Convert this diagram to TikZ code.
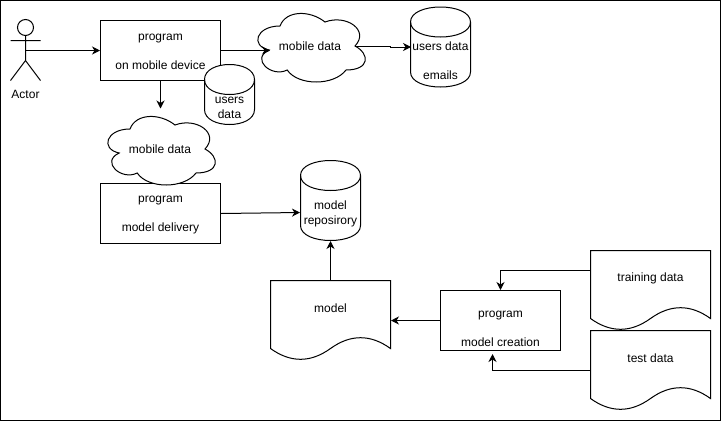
\documentclass[tikz,border=0pt]{standalone}
\usepackage{fontspec}
\setmainfont{Liberation Sans}
\usetikzlibrary{arrows.meta}
\tikzset{
  x=1pt,y=-1pt,
  shapeline/.style={draw=black,line width=1pt,fill=white},
  boxshape/.style={shapeline,minimum width=120pt,minimum height=60pt,inner sep=0pt},
  label text/.style={align=center,inner sep=0pt,font=\fontsize{12}{14.5}\selectfont,text=black},
  conn/.style={draw=black,line width=1pt,-{Stealth[length=8pt,width=8pt,inset=2.5pt]}},
}
\newcommand{\cloudshape}[2]{%
  \begin{scope}[shift={(#1,#2)}]
  \draw[shapeline] (30,20) .. controls (6,20) and (0,40) .. (19.2,44)
    .. controls (0,52.8) and (21.6,72) .. (37.2,64)
    .. controls (48,80) and (84,80) .. (96,64)
    .. controls (120,64) and (120,48) .. (105,40)
    .. controls (120,24) and (96,8) .. (75,16)
    .. controls (60,4) and (36,4) .. (30,20) -- cycle;
  \end{scope}}
\newcommand{\cylshape}[4]{% x y w h
  \begin{scope}[shift={(#1,#2)}]
  \draw[shapeline] (0,15) .. controls (0,-5) and (#3,-5) .. (#3,15) -- (#3,#4-15)
     .. controls (#3,#4+5) and (0,#4+5) .. (0,#4-15) -- cycle;
  \draw[shapeline,fill=none] (0,15) .. controls (0,35) and (#3,35) .. (#3,15);
  \end{scope}}
\newcommand{\docshape}[2]{%
  \begin{scope}[shift={(#1,#2)}]
  \draw[shapeline] (0,0) -- (120,0) -- (120,68)
    .. controls (100,53.6) and (80,53.6) .. (60,68)
    .. controls (40,82.4) and (20,82.4) .. (0,68) -- cycle;
  \end{scope}}
\begin{document}
\begin{tikzpicture}
\useasboundingbox (0,0) rectangle (721,421);
\draw[line width=1pt,draw=black] (0.5,0.5) rectangle (720.5,420.5);
% actor
\draw[line width=1pt] (25.5,27.5) circle[radius=8];
\draw[line width=1pt] (25.5,35.5) -- (25.5,60) (10.5,40.5) -- (40.5,40.5) (10.5,80.5) -- (25.5,60.5) -- (40.5,80.5);
\node[label text] (actorlabel) at (25.5,94) {Actor};
\coordinate (actor) at (25.5,50.5);
\coordinate (cloudAin) at (270,50.5);
\coordinate (cloudAout) at (355,46);
\coordinate (cloudBin) at (160.5,108.5);
\coordinate (emailsin) at (411,47);
\coordinate (repoin) at (300,212.5);
\coordinate (repoout) at (330.5,241);
\coordinate (modelin) at (391,320.5);
\coordinate (modeltop) at (330.5,280.5);
\coordinate (trainout) at (590.5,270.5);
\coordinate (testout) at (590.5,370.5);
\coordinate (creationin) at (492.5,354);
% top program
\node[boxshape] (prog) at (160.5,50.5) {};
\node[label text] (progtext) at (160.5,52) {program\\[14.5pt]on mobile device};
\cloudshape{250}{6}
\node[label text] (cloudA) at (310,46.5) {mobile data};
\cylshape{204.5}{64.5}{50}{60}
\node[label text] (users) at (229.5,108) {users\\data};
\cylshape{410.5}{7}{60}{80}
\node[label text] (emails) at (440.5,60.5) {users data\\[14.5pt]emails};
\node[boxshape] (delivery) at (160.5,213.5) {};
\node[label text] (deliverytext) at (160.5,215.5) {program\\[14.5pt]model delivery};
\cloudshape{100}{109}
\node[label text] (cloudB) at (160,149) {mobile data};
\cylshape{300.5}{160.5}{60}{80}
\node[label text] (repo) at (330.5,214) {model\\reposirory};
\docshape{270.5}{280.5}
\node[label text] (model) at (330.5,308) {model};
\node[boxshape] (creation) at (500.5,320.5) {};
\node[label text] (creationtext) at (500.5,329) {program\\[14.5pt]model creation};
\docshape{590.5}{250.5}
\node[label text] (training) at (650.5,278.5) {training data};
\docshape{590.5}{330.5}
\node[label text] (test) at (650.5,358) {test data};
% connectors
\draw[conn] (actor) -- (prog.west);
\draw[conn] (prog.east) -- (cloudAin);
\draw[conn] (prog.south) -- (cloudBin);
\draw[conn] (cloudAout) -- (390,46) -- (390,47) -- (emailsin);
\draw[conn] (delivery.east) -- (repoin);
\draw[conn] (modeltop) -- (repoout);
\draw[conn] (creation.west) -- (modelin);
\draw[conn] (trainout) -| (creation.north);
\draw[conn] (testout) -| (creationin);
\end{tikzpicture}
\end{document}
